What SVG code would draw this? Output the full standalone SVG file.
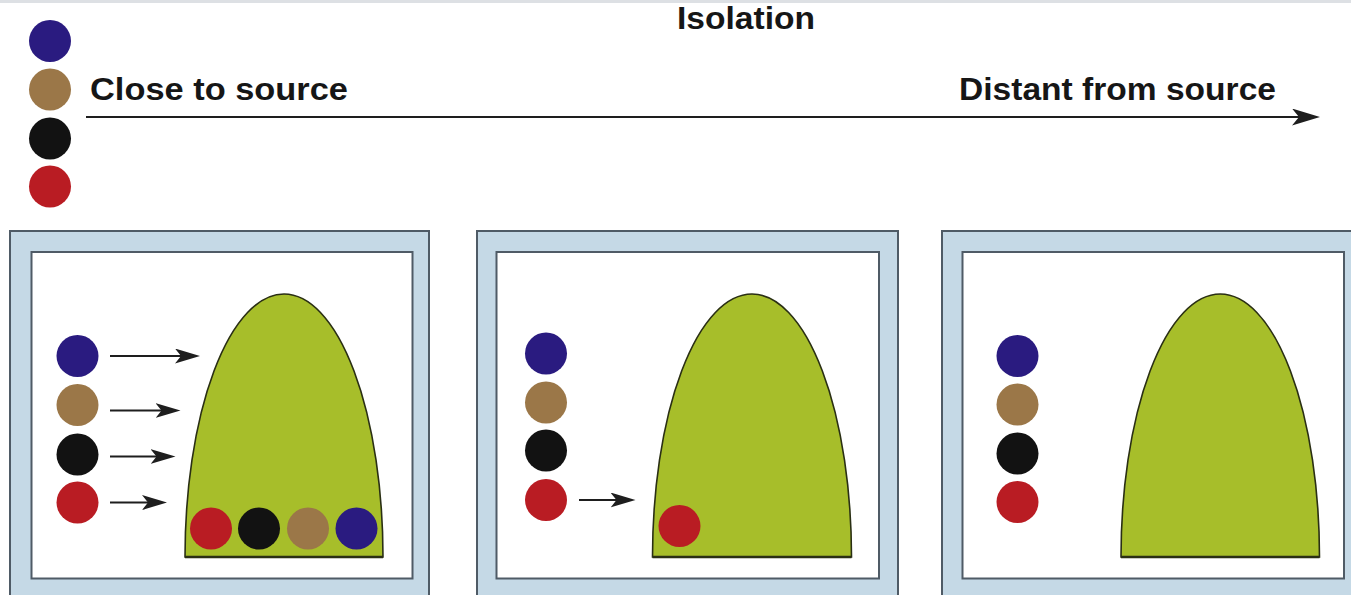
<svg xmlns="http://www.w3.org/2000/svg" width="1351" height="595" viewBox="0 0 1351 595">
  <style>
    .label { font-family: "Liberation Sans", Arial, sans-serif; font-weight: bold; font-size: 31px; fill: #161616; }
    .frame { fill: #c5d9e6; stroke: #4f5b66; stroke-width: 2; }
    .field { fill: #ffffff; stroke: #4f5b66; stroke-width: 2; }
    .dome { fill: #a7be2a; stroke: #2a2f14; stroke-width: 1.6; }
    .base { stroke: #2a2f14; stroke-width: 2.4; }
    .arrow { stroke: #1e1e1e; stroke-width: 2; fill: none; }
    .blue { fill: #2a1b80; }
    .brown { fill: #9b7748; }
    .black { fill: #121212; }
    .red { fill: #b91c23; }
  </style>
  <defs>
    <!-- barbed arrowheads; tip sits 10px beyond the line end -->
    <marker id="head" markerUnits="userSpaceOnUse" viewBox="0 0 25 15" markerWidth="25" markerHeight="15" refX="15" refY="7.5" orient="auto">
      <path d="M0,0 L25,7.5 L0,15 L6,7.5 Z" fill="#1e1e1e"/>
    </marker>
    <marker id="head-lg" markerUnits="userSpaceOnUse" viewBox="0 0 28 17" markerWidth="28" markerHeight="17" refX="18" refY="8.5" orient="auto">
      <path d="M0,0 L28,8.5 L0,17 L7,8.5 Z" fill="#1e1e1e"/>
    </marker>
  </defs>

  <rect x="0" y="0" width="1351" height="595" fill="#ffffff"/>
  <rect x="0" y="0" width="1351" height="3" fill="#dde0e4"/>

  <!-- heading and distance axis -->
  <g id="title">
    <text class="label" x="677" y="28.5" textLength="138" lengthAdjust="spacingAndGlyphs">Isolation</text>
  </g>
  <g id="axis-labels">
    <text class="label" x="90" y="100" textLength="258" lengthAdjust="spacingAndGlyphs">Close to source</text>
    <text class="label" x="959" y="100" textLength="317" lengthAdjust="spacingAndGlyphs">Distant from source</text>
  </g>

  <!-- key of particle types -->
  <g id="legend">
    <circle class="blue" cx="50" cy="41" r="21"/>
    <circle class="brown" cx="50" cy="89.5" r="21"/>
    <circle class="black" cx="50" cy="138.5" r="21"/>
    <circle class="red" cx="50" cy="186.5" r="21"/>
  </g>

  <!-- panel 1: close to source -->
  <g id="panel-near">
    <rect class="frame" x="10" y="231" width="419" height="400"/>
    <rect class="field" x="31.5" y="252" width="381" height="326.5"/>
    <path class="dome" d="M185,557 A99,263 0 0 1 383,557 Z"/>
    <line class="base" x1="185" y1="557" x2="383" y2="557"/>
    <circle class="blue" cx="77.5" cy="356" r="21"/>
    <circle class="brown" cx="77.5" cy="405" r="21"/>
    <circle class="black" cx="77.5" cy="454.5" r="21"/>
    <circle class="red" cx="77.5" cy="502.5" r="21"/>
    <circle class="red" cx="211" cy="528.5" r="21"/>
    <circle class="black" cx="259" cy="528.5" r="21"/>
    <circle class="brown" cx="308" cy="528.5" r="21"/>
    <circle class="blue" cx="356.5" cy="528.5" r="21"/>
  </g>

  <!-- panel 2: intermediate distance -->
  <g id="panel-mid">
    <rect class="frame" x="477" y="231" width="421" height="400"/>
    <rect class="field" x="496.5" y="252" width="382.5" height="326.5"/>
    <path class="dome" d="M652.5,557 A99.5,263 0 0 1 851.5,557 Z"/>
    <line class="base" x1="652.5" y1="557" x2="851.5" y2="557"/>
    <circle class="blue" cx="546" cy="353.5" r="21"/>
    <circle class="brown" cx="546" cy="402.5" r="21"/>
    <circle class="black" cx="546" cy="450.5" r="21"/>
    <circle class="red" cx="546" cy="500" r="21"/>
    <circle class="red" cx="679.5" cy="526" r="21"/>
  </g>

  <!-- panel 3: distant from source -->
  <g id="panel-far">
    <rect class="frame" x="942" y="231" width="421" height="400"/>
    <rect class="field" x="962.5" y="252" width="381.5" height="326.5"/>
    <path class="dome" d="M1121,557 A99.25,263 0 0 1 1319.5,557 Z"/>
    <line class="base" x1="1121" y1="557" x2="1319.5" y2="557"/>
    <circle class="blue" cx="1017.5" cy="356" r="21"/>
    <circle class="brown" cx="1017.5" cy="404.5" r="21"/>
    <circle class="black" cx="1017.5" cy="453.5" r="21"/>
    <circle class="red" cx="1017.5" cy="502" r="21"/>
  </g>

  <!-- connectors -->
  <g id="connectors">
    <line class="arrow" x1="86" y1="117" x2="1310" y2="117" marker-end="url(#head-lg)"/>
    <line class="arrow" x1="110" y1="356" x2="190" y2="356" marker-end="url(#head)"/>
    <line class="arrow" x1="110" y1="410.5" x2="170.5" y2="410.5" marker-end="url(#head)"/>
    <line class="arrow" x1="110" y1="456.5" x2="165.5" y2="456.5" marker-end="url(#head)"/>
    <line class="arrow" x1="110" y1="502.5" x2="157" y2="502.5" marker-end="url(#head)"/>
    <line class="arrow" x1="579" y1="500" x2="625.5" y2="500" marker-end="url(#head)"/>
  </g>
</svg>
